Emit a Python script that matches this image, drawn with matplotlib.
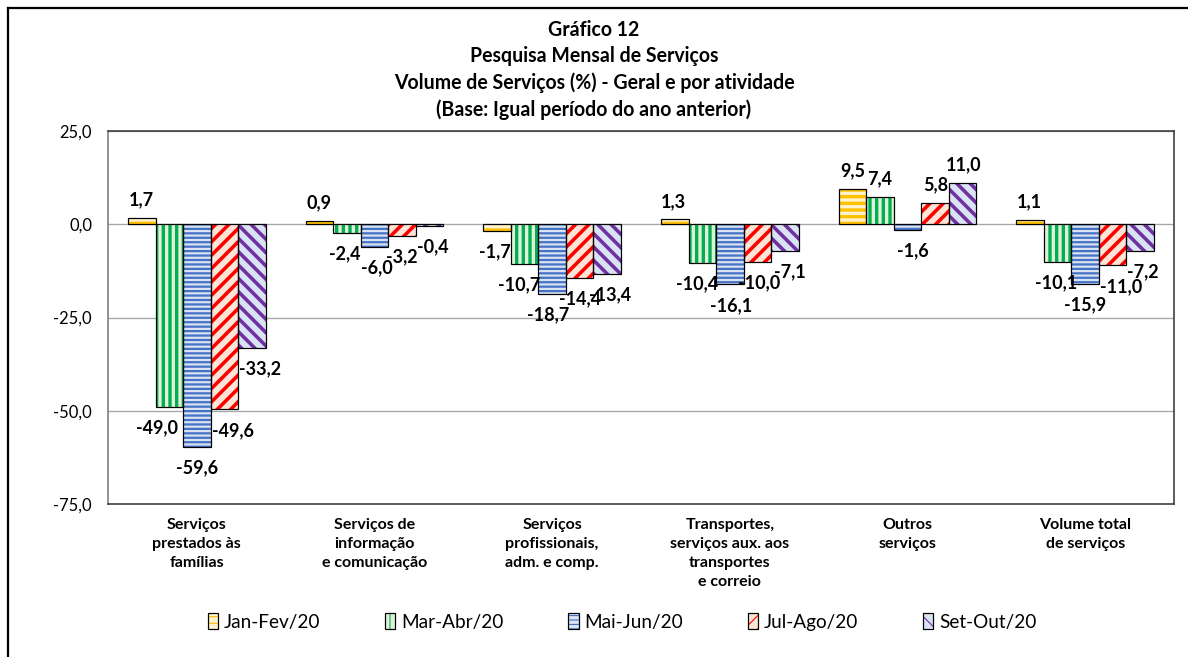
import matplotlib.pyplot as plt
import numpy as np
from matplotlib.lines import Line2D
from matplotlib.patches import Patch

# Gráfico 12 - PMS, volume de serviços (%) por atividade
categorias = ["Serviços\nprestados às\nfamílias",
              "Serviços de\ninformação\ne comunicação",
              "Serviços\nprofissionais,\nadm. e comp.",
              "Transportes,\nserviços aux. aos\ntransportes\ne correio",
              "Outros\nserviços",
              "Volume total\nde serviços"]
periodos = ["Jan-Fev/20", "Mar-Abr/20", "Mai-Jun/20", "Jul-Ago/20", "Set-Out/20"]
jan_fev = [1.7, 0.9, -1.7, 1.3, 9.5, 1.1]
mar_abr = [-49.0, -2.4, -10.7, -10.4, 7.4, -10.1]
mai_jun = [-59.6, -6.0, -18.7, -16.1, -1.6, -15.9]
jul_ago = [-49.6, -3.2, -14.4, -10.0, 5.8, -11.0]
set_out = [-33.2, -0.4, -13.4, -7.1, 11.0, -7.2]
series = [jan_fev, mar_abr, mai_jun, jul_ago, set_out]

# estilo: cor de fundo, cor da hachura, hachura, espessura da hachura
faces = ['#FFF2CC', '#E2F0D9', '#DAE3F3', '#FCE4D6', '#DAE3F3']
hcores = ['#FFC000', '#00B050', '#4472C4', '#FF0000', '#7030A0']
hatches = ['--', '||', '---', '//', '\\\\']
hlw = [3.0, 3.0, 2.0, 3.2, 3.2]

# deslocamento horizontal dos rótulos (px), como no original
label_dx = [[0, 0, -2, -1, 0, -1],
            [-12, -2, -6, -5, 0, -2],
            [0, 2, -4, 1, 5, 0],
            [9, 0, 0, 2, 1, 8],
            [8, 3, 3, 5, 1, 3]]

DPI = 80
def px(v):
    return v * 72.0 / DPI

plt.rcParams['font.family'] = ['Lato', 'DejaVu Sans']

fig = plt.figure(figsize=(1188 / DPI, 657 / DPI), dpi=DPI)
ax = fig.add_axes([108 / 1188, 1 - 504 / 657, (1174 - 108) / 1188, (504 - 131) / 657])

x = np.arange(len(categorias))
w = 0.155
handles = []
for i, vals in enumerate(series):
    pos = x + (i - 2) * w
    with plt.rc_context({'hatch.linewidth': hlw[i]}):
        ax.bar(pos, vals, w, color=faces[i], edgecolor=hcores[i], hatch=hatches[i],
               linewidth=0, zorder=2)
        fill = Patch(facecolor=faces[i], edgecolor=hcores[i], hatch=hatches[i], linewidth=0)
    ax.bar(pos, vals, w, fill=False, edgecolor='black', linewidth=1.1, zorder=3)
    handles.append((fill, Patch(fill=False, edgecolor='black', linewidth=1.1)))
    for j, v in enumerate(vals):
        dy = 18 if v >= 0 else -21
        ax.annotate(f"{v:.1f}".replace('.', ','), (pos[j], v),
                    xytext=(label_dx[i][j], dy), textcoords='offset pixels',
                    ha='center', va='center', fontsize=px(18), fontweight='bold',
                    color='black', zorder=4)

ax.set_xlim(-0.5, len(categorias) - 0.5)
ax.set_ylim(-75, 25)
ax.set_yticks([-75, -50, -25, 0, 25])
ax.set_yticklabels([f"{t:.1f}".replace('.', ',') for t in [-75, -50, -25, 0, 25]],
                   fontsize=px(16.5))
ax.tick_params(axis='y', length=0, pad=px(16))
ax.set_xticks(x)
ax.set_xticklabels(categorias, fontsize=px(16), fontweight='bold', linespacing=1.45)
ax.tick_params(axis='x', length=0, pad=px(14))
ax.set_axisbelow(True)
ax.yaxis.grid(True, color='#A6A6A6', linewidth=1.2)
for s in ['top', 'right', 'bottom']:
    ax.spines[s].set_color('#404040')
    ax.spines[s].set_linewidth(1.5)
ax.spines['left'].set_color('#808080')
ax.spines['left'].set_linewidth(1.5)

fig.text(594 / 1188, 1 - 70 / 657,
         "Gráfico 12\nPesquisa Mensal de Serviços\n"
         "Volume de Serviços (%) - Geral e por atividade\n"
         "(Base: Igual período do ano anterior)",
         ha='center', va='center', fontsize=px(19.5), fontweight='bold', linespacing=1.38)

fig.legend(handles, periodos, loc='center', bbox_to_anchor=(622 / 1188, 1 - 622 / 657),
           ncol=5, frameon=False, fontsize=px(19), handlelength=0.55, handleheight=0.85,
           handletextpad=0.3, columnspacing=3.4)

# moldura externa (cortada à direita e embaixo)
fig.add_artist(Line2D([8 / 1188, 8 / 1188], [0, 1 - 8 / 657], color='black', linewidth=2))
fig.add_artist(Line2D([8 / 1188, 1], [1 - 8 / 657, 1 - 8 / 657], color='black', linewidth=2))

fig.savefig('out.png', dpi=DPI)
